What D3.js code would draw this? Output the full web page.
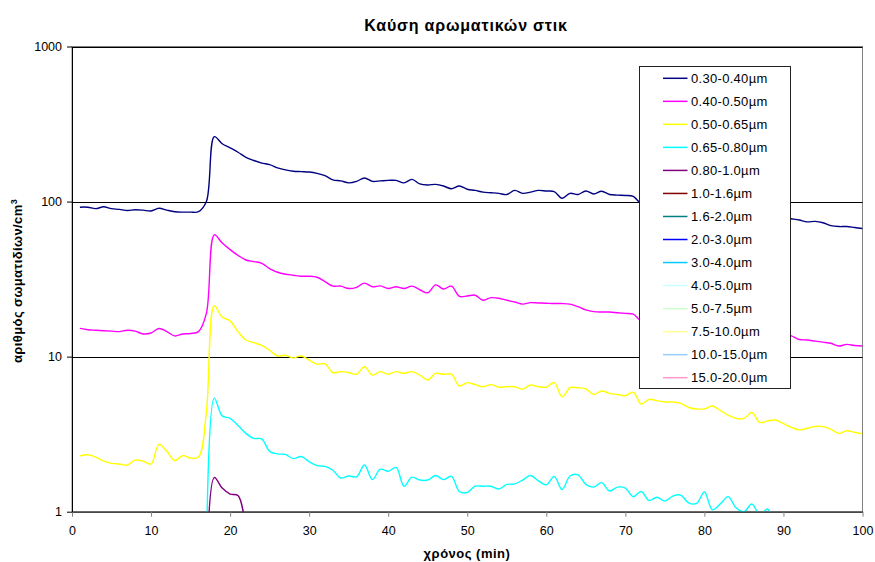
<!DOCTYPE html>
<html>
<head>
<meta charset="utf-8">
<script src="https://cdn.jsdelivr.net/npm/d3@7"></script>
<style>
  body { margin: 0; background: #fff; }
  svg { display: block; font-family: Arial, "Liberation Sans", sans-serif; }
</style>
</head>
<body>
<svg id="chart" width="875" height="562"></svg>
<script>
// Sampling times (min)
const minutes = d3.range(1, 101);

// Particle concentrations (particles/cm3) per size bin, one value per minute
const s030_040 = [92,92,90,92.5,90,89,87.5,88.5,88,87,
  90.5,88,86,85.5,85.5,86,100,262,236,222,
  208,193,184,177,173,165,160,157,156,155,
  152,147,138,136,132,135,142,135,136,137,
  137,132,139,130,128,129,126,121,126,120,
  118,115,114,113,111,118,113,115,118,117,
  116,105,113,111,117,112,116.5,111,110,109.5,
  108,97,96,95,94,93,92,91,90,89,
  88,87.5,86,85,84.5,83,82,81.5,80,79,
  77.5,76,74,74.5,73,70,69,69,68,67];

const s040_050 = [15.2,14.9,14.8,14.7,14.6,14.5,14.8,14.6,14.0,14.2,
  15.2,14.5,13.6,14.0,14.1,14.5,19,61,54,49,
  45,42,41,40,37,35,34,33.5,33,33,
  32.5,30.5,28.5,28.5,27.5,28,29.8,28.2,28.6,27.5,
  28.2,27.5,28.5,27,25.8,29,27.3,28.5,24.5,24.6,
  24.9,23.1,24.0,23.8,23.1,22.5,21.8,22.3,22.2,22.1,
  22.0,22.0,21.8,21.0,20.0,19.5,19.4,19.4,19.2,19.0,
  18.8,17.0,16.8,16.6,16.4,16.2,16.0,15.8,15.6,15.4,
  15.2,15.0,14.8,14.6,14.4,14.3,14.2,14.1,14.0,13.9,
  13.6,12.9,12.8,12.6,12.4,12.2,11.7,12.0,11.8,11.7];

const s050_065 = [2.29,2.33,2.25,2.12,2.05,2.03,2.0,2.15,2.12,2.03,
  2.72,2.45,2.14,2.3,2.22,2.25,4.4,21.3,18.0,17.0,
  14.5,12.8,12.3,11.8,11.0,10.1,10.2,9.8,10.1,9.5,
  8.95,9.0,7.9,8.0,7.9,7.7,8.6,7.6,8.0,7.7,
  8.0,7.8,8.0,7.6,7.07,7.8,7.7,7.7,6.47,6.8,
  6.6,6.4,6.6,6.35,6.4,6.4,6.17,6.56,6.4,6.35,
  6.8,5.5,6.3,6.3,6.2,5.7,6.0,5.8,5.7,5.6,
  5.9,4.95,5.3,5.2,5.1,5.1,5.0,4.7,4.6,4.6,
  4.8,4.5,4.2,4.0,4.0,4.36,3.76,3.85,3.9,3.7,
  3.5,3.37,3.45,3.54,3.54,3.4,3.2,3.33,3.25,3.18];

const s065_080 = [null,null,null,null,null,null,null,null,null,null,
  null,null,null,null,null,null,0.5,5.4,4.15,4.0,
  3.6,3.2,2.97,2.95,2.45,2.36,2.34,2.2,2.27,2.1,
  1.98,1.96,1.85,1.65,1.70,1.68,2.0,1.61,1.88,1.82,
  1.93,1.46,1.67,1.6,1.6,1.71,1.61,1.69,1.35,1.33,
  1.46,1.46,1.46,1.40,1.50,1.51,1.6,1.71,1.58,1.49,
  1.69,1.39,1.7,1.73,1.5,1.44,1.54,1.36,1.44,1.42,
  1.25,1.35,1.18,1.24,1.17,1.26,1.28,1.14,1.13,1.34,
  1.03,1.12,1.25,1.06,1.0,1.12,0.96,1.04,0.7,null,
  null,null,null,null,null,null,null,null,null,null];

const s080_100 = [null,null,null,null,null,null,null,null,null,null,
  null,null,null,null,null,null,0.3,1.66,1.42,1.3,
  1.27,0.75,null,null,null,null,null,null,null,null,
  null,null,null,null,null,null,null,null,null,null,
  null,null,null,null,null,null,null,null,null,null,
  null,null,null,null,null,null,null,null,null,null,
  null,null,null,null,null,null,null,null,null,null,
  null,null,null,null,null,null,null,null,null,null,
  null,null,null,null,null,null,null,null,null,null,
  null,null,null,null,null,null,null,null,null,null];

// Legend entries (size bins) and their colours
const binNames = ["0.30-0.40µm","0.40-0.50µm","0.50-0.65µm","0.65-0.80µm","0.80-1.0µm",
  "1.0-1.6µm","1.6-2.0µm","2.0-3.0µm","3.0-4.0µm","4.0-5.0µm",
  "5.0-7.5µm","7.5-10.0µm","10.0-15.0µm","15.0-20.0µm"];
const binColors = ["#000080","#FF00FF","#FFFF00","#00FFFF","#800080",
  "#800000","#008080","#0000FF","#00CCFF","#CCFFFF",
  "#CCFFCC","#FFFF99","#99CCFF","#FF99CC"];

// Series with readings inside the plotted range
const plotted = [
  { values: s030_040, color: binColors[0] },
  { values: s040_050, color: binColors[1] },
  { values: s050_065, color: binColors[2] },
  { values: s065_080, color: binColors[3] },
  { values: s080_100, color: binColors[4] }
];

const xTicks = [0,10,20,30,40,50,60,70,80,90,100];
const yTicks = [1,10,100,1000];

const svg = d3.select("#chart");
const plotLeft = 72, plotRight = 862.5, plotTop = 46.5, plotBottom = 511.7;

const x = d3.scaleLinear().domain([0, 100]).range([plotLeft, plotRight]);
const y = d3.scaleLog().domain([1, 1000]).range([plotBottom, plotTop]);

// Title
svg.append("text")
  .attr("x", 466).attr("y", 31)
  .attr("text-anchor", "middle")
  .attr("font-size", 16).attr("font-weight", "bold")
  .attr("letter-spacing", 0.8)
  .text("Καύση αρωματικών στικ");

// Plot area clip
svg.append("clipPath").attr("id", "plotClip")
  .append("rect").attr("x", plotLeft).attr("y", plotTop)
  .attr("width", plotRight - plotLeft).attr("height", plotBottom - plotTop);

// Plot area frame
svg.append("rect")
  .attr("x", plotLeft).attr("y", plotTop)
  .attr("width", plotRight - plotLeft).attr("height", plotBottom - plotTop)
  .attr("fill", "none").attr("stroke", "#808080").attr("stroke-width", 1);

// Horizontal gridlines at each decade
svg.append("g").selectAll("line")
  .data(yTicks.filter(d => d > 1))
  .join("line")
  .attr("x1", plotLeft).attr("x2", plotRight)
  .attr("y1", d => Math.round(y(d)) + 0.5).attr("y2", d => Math.round(y(d)) + 0.5)
  .attr("stroke", "#000").attr("stroke-width", 1);

// Series lines
const line = d3.line()
  .defined(d => d.v != null)
  .x(d => x(d.t))
  .y(d => y(d.v))
  .curve(d3.curveCatmullRom.alpha(0.5));

const lines = svg.append("g").attr("clip-path", "url(#plotClip)");
plotted.forEach(s => {
  const pts = minutes.map((t, i) => ({ t, v: s.values[i] }));
  lines.append("path")
    .datum(pts)
    .attr("d", line)
    .attr("fill", "none")
    .attr("stroke", s.color)
    .attr("stroke-width", 1.4);
});

// Axes
const xAxis = svg.append("g")
  .attr("transform", `translate(0,${plotBottom})`)
  .call(d3.axisBottom(x).tickValues(xTicks).tickFormat(d3.format("d"))
    .tickSize(5).tickSizeOuter(0).tickPadding(9));
const yAxis = svg.append("g")
  .attr("transform", `translate(${plotLeft},0)`)
  .call(d3.axisLeft(y).tickValues(yTicks).tickFormat(d3.format("d"))
    .tickSize(5).tickSizeOuter(0).tickPadding(5));
[xAxis, yAxis].forEach(g => {
  g.attr("font-family", null).attr("font-size", null);
  g.selectAll("text").attr("font-size", 12.5).attr("fill", "#000");
  g.selectAll("line").attr("stroke", "#000");
  g.select(".domain").attr("stroke", "#000");
});
xAxis.selectAll("line").attr("stroke", "#808080");

// Axis titles
svg.append("text")
  .attr("x", 467).attr("y", 558)
  .attr("text-anchor", "middle")
  .attr("font-size", 13).attr("font-weight", "bold")
  .attr("letter-spacing", 0.5)
  .text("χρόνος (min)");

const yTitle = svg.append("text")
  .attr("transform", "translate(22,281) rotate(-90)")
  .attr("text-anchor", "middle")
  .attr("font-size", 13).attr("font-weight", "bold")
  .attr("letter-spacing", 0.4);
yTitle.append("tspan").text("αριθμός σωματιδίων/cm");
yTitle.append("tspan").attr("dy", -5).attr("font-size", 9).text("3");

// Legend
const legend = svg.append("g");
legend.append("rect")
  .attr("x", 639.5).attr("y", 66.5)
  .attr("width", 151).attr("height", 322)
  .attr("fill", "#fff").attr("stroke", "#222").attr("stroke-width", 1);
const rowY = i => 78.3 + i * 23.03;
const items = legend.selectAll("g.item")
  .data(binNames)
  .join("g").attr("class", "item")
  .attr("transform", (d, i) => `translate(0,${rowY(i)})`);
items.append("line")
  .attr("x1", 663).attr("x2", 687.5)
  .attr("stroke", (d, i) => binColors[i]).attr("stroke-width", 1.5);
items.append("text")
  .attr("x", 691).attr("dy", "0.35em")
  .attr("font-size", 13).attr("letter-spacing", 0.3)
  .text(d => d);
</script>
</body>
</html>
